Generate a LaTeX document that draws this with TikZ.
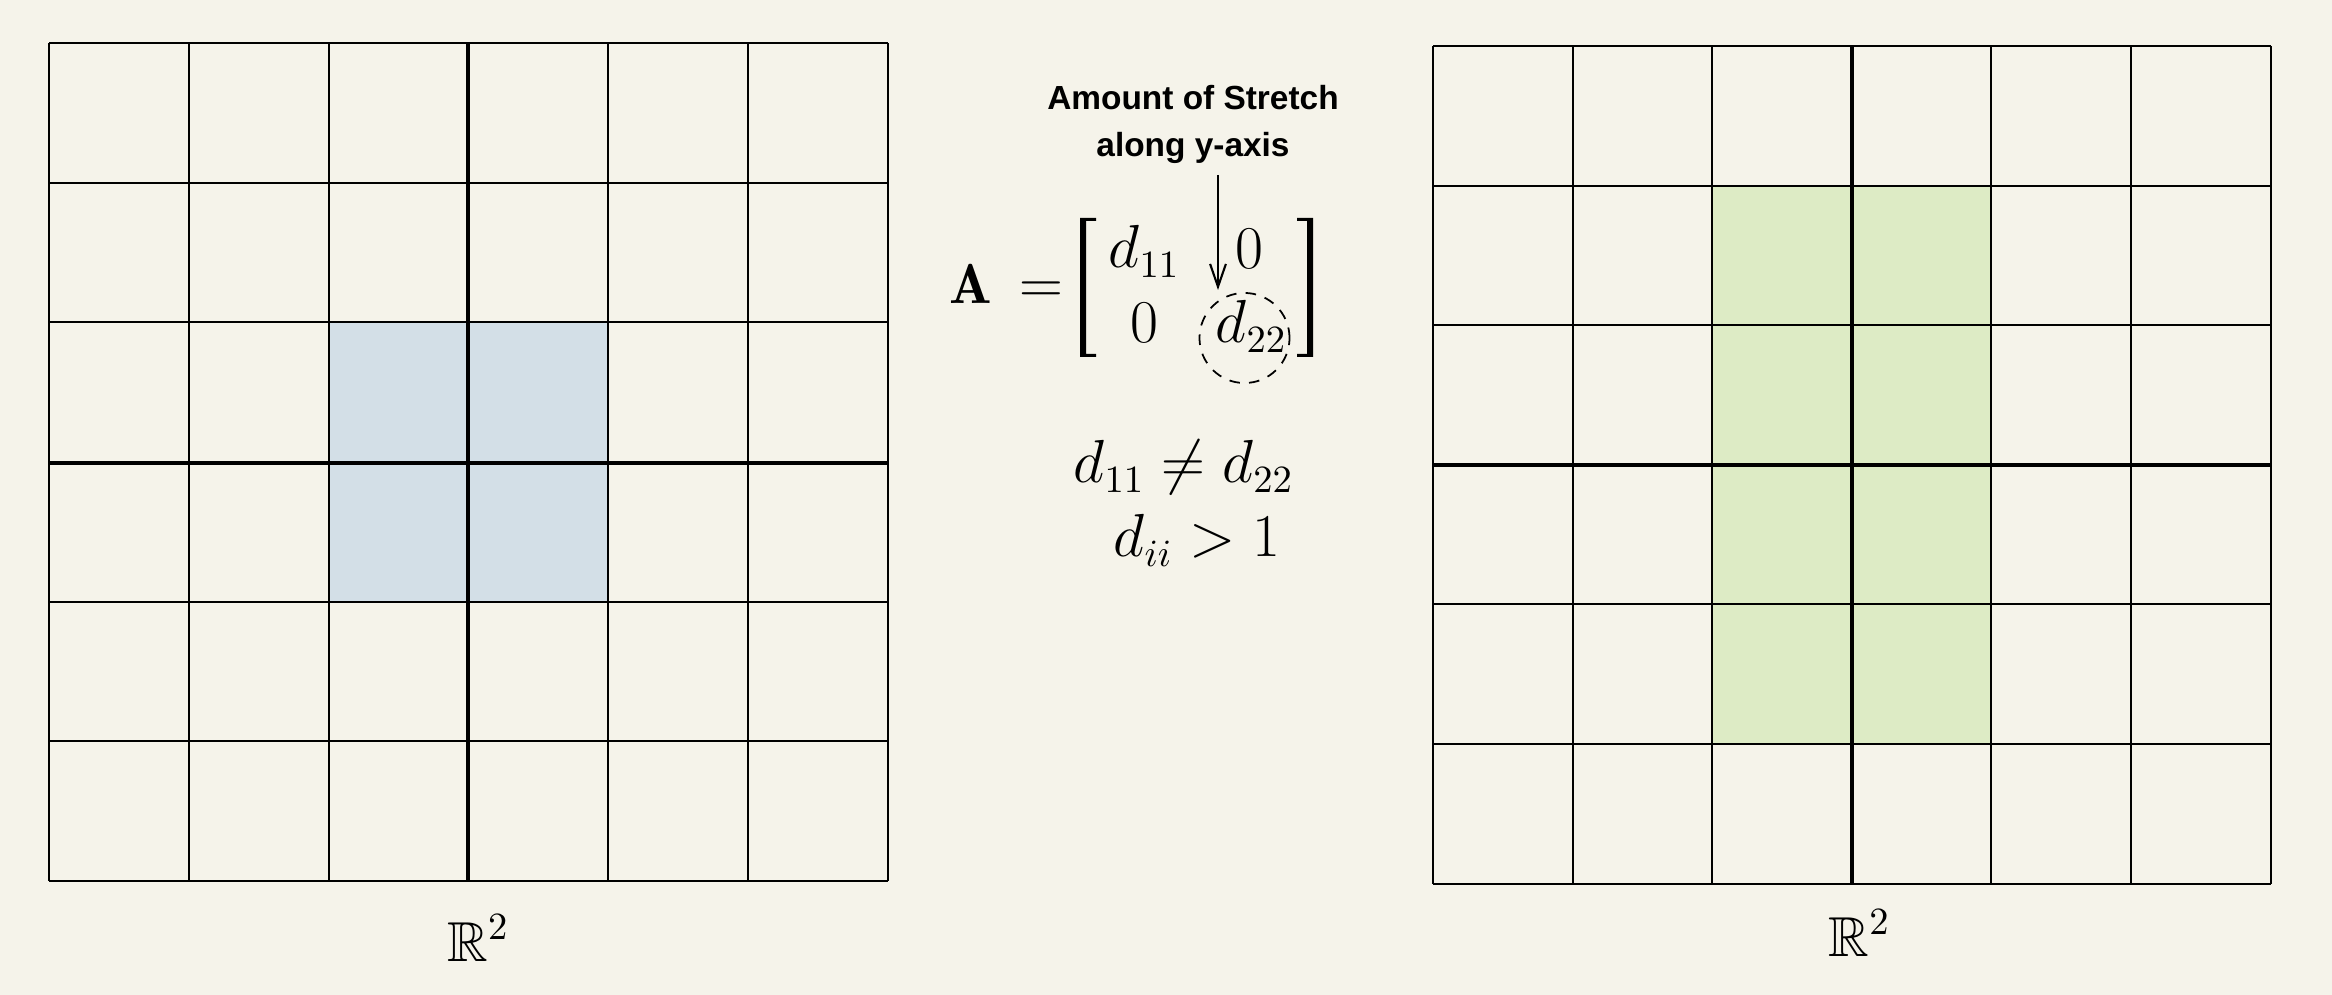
\documentclass[tikz,border=0pt]{standalone}
\usepackage{amsmath,amssymb}
\usepackage{fontspec}
\newfontfamily\labelfont{Liberation Sans}
\usetikzlibrary{arrows.meta}
\definecolor{bgcol}{RGB}{245,243,234}
\definecolor{bluefill}{RGB}{211,223,231}
\definecolor{greenfill}{RGB}{221,235,197}
\tikzset{
  gridline/.style={line width=0.57pt, black},
  axisline/.style={line width=1.15pt, black},
  mathtext/.style={inner sep=0pt, font=\fontsize{16}{19}\selectfont},
  stretchlabel/.style={inner sep=0pt, font=\labelfont\bfseries\fontsize{9.5}{13.3}\selectfont},
  bracketshape/.style={fill=black, draw=none},
  dashcircle/.style={draw, circle, line width=0.5pt, dash pattern=on 3pt off 2.6pt, minimum size=0.9cm, inner sep=0pt},
  pointer/.style={-{Straight Barb[length=6.5pt,width=4.5pt]}, line width=0.6pt},
}
\begin{document}
\begin{tikzpicture}[x=0.01cm,y=-0.01cm]
\fill[bgcol] (0,0) rectangle (2332,995);
\useasboundingbox (0,0) rectangle (2332,995);

% left grid
\fill[bluefill] (328.7,322.4) rectangle (608.1,601.8);
\foreach \i in {0,1,2,4,5,6} {
  \draw[gridline] ({49.3+\i*139.7},43) -- ({49.3+\i*139.7},881.2);
  \draw[gridline] (49.3,{43+\i*139.7}) -- (887.5,{43+\i*139.7});
}
\draw[axisline] (468.4,43) -- (468.4,881.2);
\draw[axisline] (49.3,462.6) -- (887.5,462.6);

% right grid
\fill[greenfill] (1712.2,185.6) rectangle (1991.4,744);
\foreach \i in {0,1,2,4,5,6} {
  \draw[gridline] ({1433+\i*139.6},46) -- ({1433+\i*139.6},883.6);
  \draw[gridline] (1433,{46+\i*139.6}) -- (2270.6,{46+\i*139.6});
}
\draw[axisline] (1851.8,46) -- (1851.8,883.6);
\draw[axisline] (1433,464.8) -- (2270.6,464.8);

% space labels
\node[mathtext, anchor=base west] (Rleft) at (446.7,961.7) {$\mathbb{R}^2$};
\node[mathtext, anchor=base west] (Rright) at (1828,956.7) {$\mathbb{R}^2$};

% matrix
\node[mathtext, anchor=base] (Amat) at (971,304) {$\mathbf{A}$};
\node[mathtext, anchor=base] (eqsign) at (1041,304) {$=$};
\fill[bracketshape] (1080,218) -- (1096,218) -- (1096,221) -- (1086,221) -- (1086,354) -- (1096,354) -- (1096,357) -- (1080,357) -- cycle;
\fill[bracketshape] (1313,218) -- (1297,218) -- (1297,221) -- (1307,221) -- (1307,354) -- (1297,354) -- (1297,357) -- (1313,357) -- cycle;
\node[mathtext, anchor=base west] (d11) at (1108,268) {$d_{11}$};
\node[mathtext, anchor=base] (z12) at (1249.5,269) {$0$};
\node[mathtext, anchor=base] (z21) at (1144.5,343) {$0$};
\node[mathtext, anchor=base west] (d22) at (1215,343) {$d_{22}$};
\node[dashcircle] (circ) at (1244.5,338) {};

% label and arrow
\node[stretchlabel, anchor=base] (lab1) at (1193,110) {Amount of Stretch};
\node[stretchlabel, anchor=base] (lab2) at (1193,156.7) {along y-axis};
\coordinate (arrS) at (1218,175);
\coordinate (arrE) at (1218,290);
\draw[pointer] (arrS) -- (arrE);

% conditions
\node[mathtext, anchor=base west] (ineq1) at (1073,483) {$d_{11} \neq d_{22}$};
\node[mathtext, anchor=base west] (ineq2) at (1113,557) {$d_{ii} > 1$};
\end{tikzpicture}
\end{document}
